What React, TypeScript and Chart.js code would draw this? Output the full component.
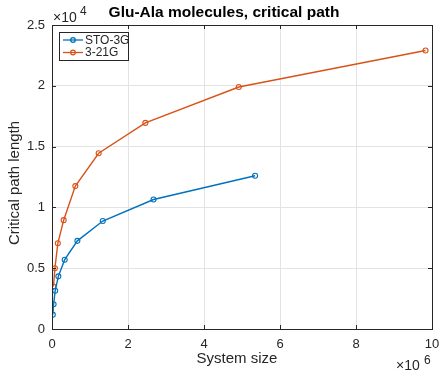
import React, { useEffect, useRef } from "react";
import { Chart, registerables } from "chart.js";

Chart.register(...registerables);

// System sizes (number of basis-function interactions) and critical path lengths
const stoSize = [21000, 42000, 84000, 167000, 334000, 668000, 1336000, 2672000, 5344000];
const stoPath = [1180, 2030, 3150, 4330, 5700, 7250, 8880, 10650, 12600];

const g321Size = [38400, 76800, 153600, 307000, 614000, 1228000, 2457000, 4915000, 9830000];
const g321Path = [3500, 5000, 7050, 8950, 11750, 14450, 16950, 19900, 22900];

const seriesNames = ["STO-3G", "3-21G"];
const seriesColors = ["#0072BD", "#D95319"];

const xTicks = [0, 2e6, 4e6, 6e6, 8e6, 10e6];
const yTicks = [0, 5000, 10000, 15000, 20000, 25000];

const FONT = "'Liberation Sans', Arial, Helvetica, sans-serif";
const AXIS_COLOR = "#262626";

const decorations = {
  id: "matlabDecor",
  afterDraw(chart: any) {
    const { ctx, chartArea: a, scales } = chart;
    const xs = scales.x;
    const ys = scales.y;
    ctx.save();

    // axes box
    ctx.strokeStyle = AXIS_COLOR;
    ctx.lineWidth = 1;
    ctx.strokeRect(Math.round(a.left) + 0.5, Math.round(a.top) + 0.5, Math.round(a.right - a.left), Math.round(a.bottom - a.top));

    // inward ticks on all four sides
    const tl = 4;
    ctx.beginPath();
    xTicks.forEach((v) => {
      const px = Math.round(xs.getPixelForValue(v)) + 0.5;
      ctx.moveTo(px, a.bottom);
      ctx.lineTo(px, a.bottom - tl);
      ctx.moveTo(px, a.top);
      ctx.lineTo(px, a.top + tl);
    });
    yTicks.forEach((v) => {
      const py = Math.round(ys.getPixelForValue(v)) + 0.5;
      ctx.moveTo(a.left, py);
      ctx.lineTo(a.left + tl, py);
      ctx.moveTo(a.right, py);
      ctx.lineTo(a.right - tl, py);
    });
    ctx.stroke();

    // title
    ctx.fillStyle = "#000";
    ctx.font = `bold 15.5px ${FONT}`;
    ctx.textAlign = "center";
    ctx.textBaseline = "middle";
    ctx.fillText("Glu-Ala molecules, critical path", 224, 13);

    // axis titles
    ctx.fillStyle = AXIS_COLOR;
    ctx.font = `15px ${FONT}`;
    ctx.fillText("System size", 237, 359);
    ctx.save();
    ctx.translate(15, 183);
    ctx.rotate(-Math.PI / 2);
    ctx.fillText("Critical path length", 0, 0);
    ctx.restore();

    // exponent multipliers
    ctx.textAlign = "left";
    ctx.font = `14px ${FONT}`;
    ctx.fillText("\u00d710", a.left + 1, 18);
    ctx.font = `12px ${FONT}`;
    ctx.fillText("4", a.left + 28, 12);
    ctx.font = `14px ${FONT}`;
    ctx.fillText("\u00d710", 396, 366);
    ctx.font = `12px ${FONT}`;
    ctx.fillText("6", 424, 361);

    // legend
    const lx = 59, ly = 32, lw = 69, lh = 28;
    ctx.fillStyle = "#fff";
    ctx.fillRect(lx, ly, lw, lh);
    ctx.strokeStyle = AXIS_COLOR;
    ctx.lineWidth = 1;
    ctx.strokeRect(lx + 0.5, ly + 0.5, lw, lh);
    ctx.font = `12px ${FONT}`;
    seriesNames.forEach((name, i) => {
      const cy = ly + 8 + i * 12.5;
      ctx.strokeStyle = seriesColors[i];
      ctx.lineWidth = 1.3;
      ctx.beginPath();
      ctx.moveTo(lx + 4, cy);
      ctx.lineTo(lx + 24, cy);
      ctx.stroke();
      ctx.beginPath();
      ctx.arc(lx + 14, cy, 2.3, 0, Math.PI * 2);
      ctx.stroke();
      ctx.fillStyle = AXIS_COLOR;
      ctx.fillText(name, lx + 26, cy + 0.5);
    });

    ctx.restore();
  },
};

export default function App() {
  const ref = useRef<HTMLCanvasElement>(null);

  useEffect(() => {
    document.body.style.margin = "0";
    const mk = (label: string, xsArr: number[], ysArr: number[], color: string) => ({
      label,
      data: xsArr.map((x, i) => ({ x, y: ysArr[i] })),
      borderColor: color,
      backgroundColor: "rgba(0,0,0,0)",
      borderWidth: 1.4,
      pointRadius: 2.5,
      pointBorderWidth: 1.1,
      pointBorderColor: color,
      pointBackgroundColor: "rgba(0,0,0,0)",
      showLine: true,
      tension: 0,
    });
    const chart = new Chart(ref.current!, {
      type: "scatter",
      data: {
        datasets: [
          mk(seriesNames[0], stoSize, stoPath, seriesColors[0]),
          mk(seriesNames[1], g321Size, g321Path, seriesColors[1]),
        ],
      },
      options: {
        animation: false,
        responsive: false,
        layout: { padding: { left: 0, right: 7, top: 25, bottom: 0 } },
        plugins: { legend: { display: false }, title: { display: false }, tooltip: { enabled: false } },
        scales: {
          x: {
            type: "linear",
            min: 0,
            max: 10e6,
            afterFit: (s: any) => {
              s.height = 42;
              s.paddingLeft = 0;
              s.paddingRight = 0;
            },
            afterBuildTicks: (s: any) => { s.ticks = xTicks.map((v) => ({ value: v })); },
            ticks: {
              callback: (v: any) => String(Number(v) / 1e6),
              color: AXIS_COLOR,
              font: { family: FONT, size: 13 },
              padding: 8,
              maxRotation: 0,
            },
            grid: { color: "#e3e3e3", lineWidth: 1, drawTicks: false },
            border: { display: false },
          },
          y: {
            type: "linear",
            min: 0,
            max: 25000,
            afterFit: (s: any) => {
              s.width = 52;
              s.paddingTop = 0;
              s.paddingBottom = 0;
            },
            afterBuildTicks: (s: any) => { s.ticks = yTicks.map((v) => ({ value: v })); },
            ticks: {
              callback: (v: any) => String(Number(v) / 1e4),
              color: AXIS_COLOR,
              font: { family: FONT, size: 13 },
              padding: 7,
            },
            grid: { color: "#e3e3e3", lineWidth: 1, drawTicks: false },
            border: { display: false },
          },
        },
      },
      plugins: [decorations],
    });
    return () => chart.destroy();
  }, []);

  return (
    <div style={{ width: 439, height: 371 }}>
      <canvas ref={ref} width={439} height={371} />
    </div>
  );
}
